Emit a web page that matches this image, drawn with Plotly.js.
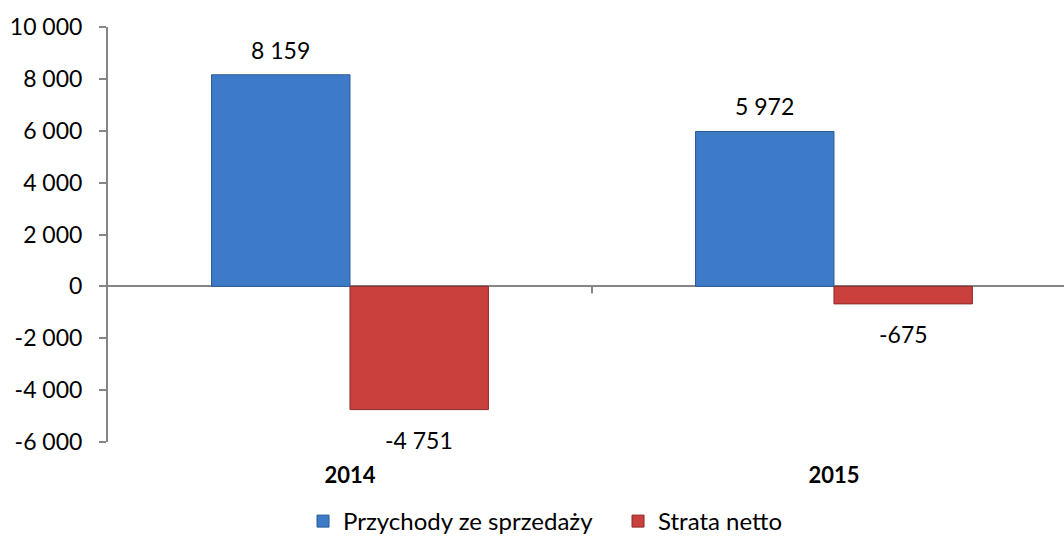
<!DOCTYPE html>
<html>
<head>
<meta charset="utf-8">
<script src="https://cdn.plot.ly/plotly-3.0.1.min.js"></script>
<style>html,body{margin:0;padding:0;background:#fff;}#chart{width:1064px;height:544px;}</style>
</head>
<body>
<div id="chart"></div>
<script>
const categories = ["2014", "2015"];
const seriesNames = ["Przychody ze sprzedaży", "Strata netto"];
const revenue = [8159, 5972];
const netLoss = [-4751, -675];
const yTicks = [-6000, -4000, -2000, 0, 2000, 4000, 6000, 8000, 10000];

const FONT = "Lato, 'Open Sans', sans-serif";
const FS = 23;
const barWidth = 0.286;

const traces = [
  {type: "bar", name: seriesNames[0], x: categories, y: revenue,
   marker: {color: "#3d7ac8", line: {color: "#2c5a96", width: 1}}, hoverinfo: "y"},
  {type: "bar", name: seriesNames[1], x: categories, y: netLoss,
   marker: {color: "#c9403c", line: {color: "#8c2a27", width: 1}}, hoverinfo: "y"}
];

function fmt(v) {
  const s = Math.abs(v).toString().replace(/\B(?=(\d{3})+(?!\d))/g, " ");
  return (v < 0 ? "-" : "") + s;
}

const annotations = [];
[revenue, netLoss].forEach((vals, si) => {
  vals.forEach((v, i) => {
    annotations.push({
      xref: "x", yref: "y", x: i + (si === 0 ? -barWidth / 2 : barWidth / 2), y: v,
      text: fmt(v), showarrow: false, yanchor: "middle",
      yshift: v >= 0 ? 25 : -30,
      font: {family: FONT, size: FS, color: "#000"}
    });
  });
});

const layout = {
  width: 1064, height: 544,
  margin: {l: 108, r: 0, t: 27, b: 102},
  paper_bgcolor: "#fff", plot_bgcolor: "#fff",
  separators: ", ",
  barmode: "group", bargap: 0.428, bargroupgap: 0,
  font: {family: FONT, size: FS, color: "#000"},
  showlegend: true,
  legend: {orientation: "h", x: 0.5335, xanchor: "center", y: -0.193, yanchor: "middle",
           font: {family: FONT, size: 24, color: "#000"}, traceorder: "normal", itemwidth: 30,
           entrywidth: 270, entrywidthmode: "pixels"},
  xaxis: {type: "category", range: [-0.5, 1.4753], showline: false, showgrid: false, zeroline: false,
          ticks: "", ticklabelstandoff: 18, tickfont: {family: FONT, size: FS - 1, color: "#000", weight: "bold"}},
  yaxis: {range: [-6000, 10000], tickvals: yTicks, ticktext: yTicks.map(fmt),
          showline: true, linecolor: "#868686", linewidth: 2,
          ticks: "outside", ticklen: 7, tickcolor: "#868686", tickwidth: 2,
          showgrid: false, zeroline: true, zerolinecolor: "#868686", zerolinewidth: 2,
          ticklabelstandoff: 12, tickfont: {family: FONT, size: FS, color: "#000"}},
  shapes: [{type: "line", xref: "x", yref: "y", ysizemode: "pixel", yanchor: 0,
            x0: 0.5, x1: 0.5, y0: 0, y1: -7, line: {color: "#868686", width: 2}}],
  annotations: annotations
};

Plotly.newPlot("chart", traces, layout, {displayModeBar: false, staticPlot: true});
</script>
</body>
</html>
